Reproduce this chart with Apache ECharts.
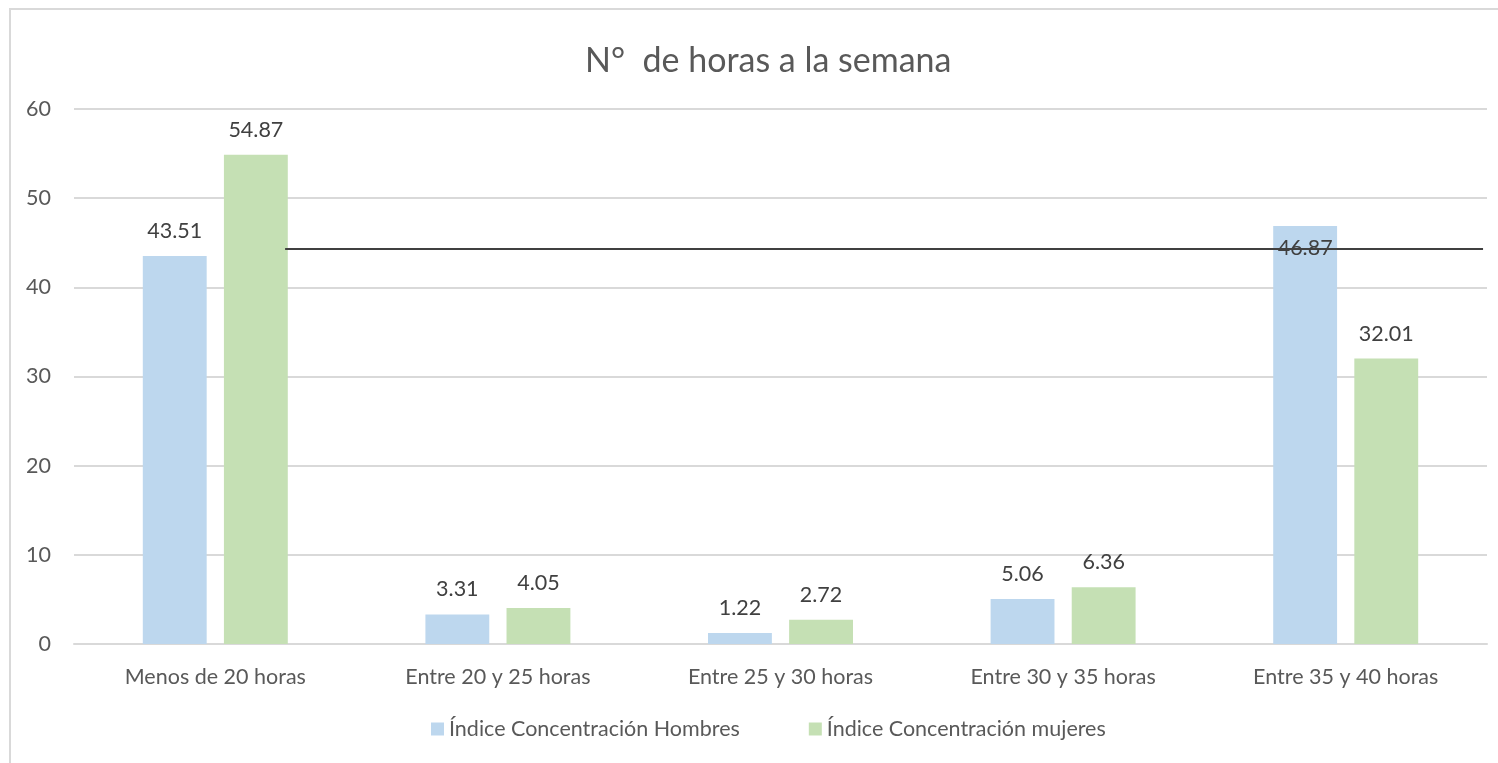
<!DOCTYPE html>
<html>
<head>
<meta charset="utf-8">
<script src="https://cdn.jsdelivr.net/npm/echarts@6/dist/echarts.min.js"></script>
<style>
  html, body { margin: 0; padding: 0; background: #fff; }
  #main { width: 1498px; height: 763px; }
</style>
</head>
<body>
<div id="main"></div>
<script>
  // datos
  var categorias = ['Menos de 20 horas', 'Entre 20 y 25 horas', 'Entre 25 y 30 horas', 'Entre 30 y 35 horas', 'Entre 35 y 40 horas']
  var hombres = [43.51, 3.31, 1.22, 5.06, 46.87]
  var mujeres = [54.87, 4.05, 2.72, 6.36, 32.01]
  // línea horizontal (x en unidades de categoría, y en valor)
  var lineaX = [0.747, 4.986]
  var lineaY = [44.3, 44.3]
  var yTicks = [0, 10, 20, 30, 40, 50, 60]

  var fuente = 'Lato, "Open Sans", sans-serif'
  var tam = 21.5
  var myChart = echarts.init(document.getElementById('main'))

  var labelArriba = {
    show: true,
    position: 'top',
    distance: 14,
    color: '#404040',
    fontSize: tam,
    fontFamily: fuente
  }

  var datosHombres = hombres.map(function (v, i) {
    // el último rótulo queda dentro de la barra, como en el original
    if (i === 4) {
      return { value: v, label: { position: 'insideTop', distance: 11 } }
    }
    return v
  })

  var option = {
    backgroundColor: '#fff',
    animation: false,
    graphic: [{
      type: 'rect',
      shape: { x: 10, y: 9, width: 1500, height: 800 },
      style: { fill: 'none', stroke: '#d9d9d9', lineWidth: 2 },
      silent: true
    }],
    title: {
      text: 'N°  de horas a la semana',
      left: 580,
      top: 39,
      textStyle: { color: '#595959', fontSize: 34, fontWeight: 'normal', fontFamily: fuente }
    },
    legend: {
      bottom: 18,
      left: 426,
      icon: 'rect',
      itemWidth: 13,
      itemHeight: 13,
      itemGap: 69,
      textStyle: { color: '#595959', fontSize: tam, fontFamily: fuente },
      data: ['Índice Concentración Hombres', 'Índice Concentración mujeres']
    },
    grid: { left: 74, right: 11, top: 109, bottom: 119 },
    xAxis: [
      {
        type: 'category',
        data: categorias,
        axisLine: { show: true, lineStyle: { color: '#d9d9d9', width: 2 } },
        axisTick: { show: false },
        axisLabel: { color: '#595959', fontSize: tam, fontFamily: fuente, margin: 22 }
      },
      {
        type: 'value',
        min: 0,
        max: 5,
        show: false
      }
    ],
    yAxis: {
      type: 'value',
      min: yTicks[0],
      max: yTicks[yTicks.length - 1],
      interval: 10,
      axisLine: { show: false },
      axisTick: { show: false },
      axisLabel: { color: '#595959', fontSize: tam, fontFamily: fuente, margin: 23 },
      splitLine: { lineStyle: { color: '#d9d9d9', width: 2 } }
    },
    series: [
      {
        name: 'Índice Concentración Hombres',
        type: 'bar',
        data: datosHombres,
        barWidth: '22.6%',
        barGap: '27%',
        itemStyle: { color: '#bdd7ee' },
        label: labelArriba
      },
      {
        name: 'Índice Concentración mujeres',
        type: 'bar',
        data: mujeres,
        barWidth: '22.6%',
        itemStyle: { color: '#c5e0b4' },
        label: labelArriba
      },
      {
        name: 'linea',
        type: 'line',
        xAxisIndex: 1,
        data: lineaX.map(function (x, i) { return [x, lineaY[i]] }),
        symbol: 'none',
        silent: true,
        z: 5,
        lineStyle: { color: '#404040', width: 2 }
      }
    ]
  }

  myChart.setOption(option)
</script>
</body>
</html>
